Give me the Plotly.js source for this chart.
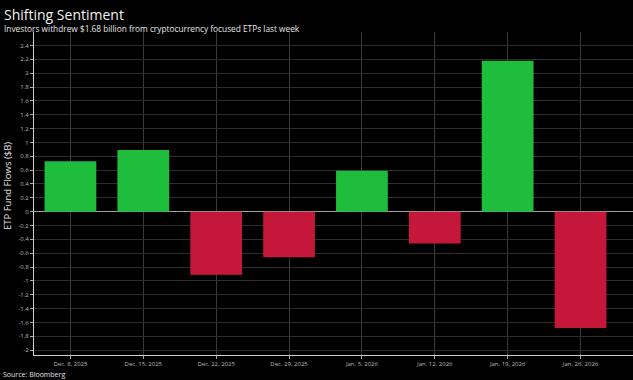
<!DOCTYPE html>
<html>
<head>
<meta charset="utf-8">
<script src="https://cdn.plot.ly/plotly-3.0.1.min.js"></script>
<style>html,body{margin:0;padding:0;background:#000;}#chart{width:633px;height:380px;}</style>
</head>
<body>
<div id="chart"></div>
<script>
const weeks = ["Dec. 8, 2025","Dec. 15, 2025","Dec. 22, 2025","Dec. 29, 2025","Jan. 5, 2026","Jan. 12, 2026","Jan. 19, 2026","Jan. 26, 2026"];
const flows = [0.73, 0.89, -0.91, -0.66, 0.59, -0.46, 2.18, -1.68];
const yTicks = [-2,-1.8,-1.6,-1.4,-1.2,-1,-0.8,-0.6,-0.4,-0.2,0,0.2,0.4,0.6,0.8,1,1.2,1.4,1.6,1.8,2,2.2,2.4];
const yTickText = yTicks.map(v => String(Math.round(v*10)/10));

const GREEN = '#1ebd3c';
const RED = '#c5173a';
const FONT = 'Open Sans, DejaVu Sans, sans-serif';

const trace = {
  type: 'bar',
  x: weeks,
  y: flows,
  width: 0.71,
  marker: {color: flows.map(v => v >= 0 ? GREEN : RED), line: {width: 0}},
  hoverinfo: 'skip'
};

const layout = {
  width: 633, height: 380,
  paper_bgcolor: '#000', plot_bgcolor: '#000',
  margin: {l: 34, r: 0, t: 32, b: 25, pad: 0},
  showlegend: false,
  font: {family: FONT, color: '#bbb', size: 7},
  xaxis: {
    type: 'category',
    range: [-0.5, 7.72],
    showgrid: true, gridcolor: '#3a3a3a', gridwidth: 1,
    showline: true, linecolor: '#cfcfcf', linewidth: 1,
    ticks: 'outside', ticklen: 3, tickcolor: '#999',
    tickfont: {size: 6, color: '#bbb', family: FONT},
    fixedrange: true, zeroline: false
  },
  yaxis: {
    range: [-2.07, 2.595],
    tickvals: yTicks, ticktext: yTickText,
    showgrid: true, gridcolor: '#2e2e2e', gridwidth: 1,
    showline: true, linecolor: '#cfcfcf', linewidth: 1,
    ticks: 'outside', ticklen: 3, tickcolor: '#aaa',
    tickfont: {size: 6, color: '#bbb', family: FONT},
    zeroline: true, zerolinecolor: '#a0a0a0', zerolinewidth: 1,
    fixedrange: true
  },
  annotations: [
    {text: 'Shifting Sentiment', xref: 'paper', yref: 'paper', x: -32/599, y: 1 + (32-3)/323,
     xanchor: 'left', yanchor: 'top', showarrow: false,
     font: {family: FONT, size: 14, color: '#f2f2f2'}},
    {text: 'Investors withdrew $1.68 billion from cryptocurrency focused ETPs last week', xref: 'paper', yref: 'paper',
     x: -32/599, y: 1 + (32-21)/323, xanchor: 'left', yanchor: 'top', showarrow: false,
     font: {family: FONT, size: 8.3, color: '#e6e6e6'}},
    {text: 'ETP Fund Flows ($B)', xref: 'paper', yref: 'paper', x: (8-34)/599, y: (355-186)/323,
     xanchor: 'center', yanchor: 'middle', textangle: -90, showarrow: false,
     font: {family: FONT, size: 9.5, color: '#e6e6e6'}},
    {text: 'Source: Bloomberg', xref: 'paper', yref: 'paper', x: -33/599, y: -(374-355)/323,
     xanchor: 'left', yanchor: 'middle', showarrow: false,
     font: {family: FONT, size: 7, color: '#e0e0e0'}}
  ]
};

Plotly.newPlot('chart', [trace], layout, {displayModeBar: false, staticPlot: true});
</script>
</body>
</html>
